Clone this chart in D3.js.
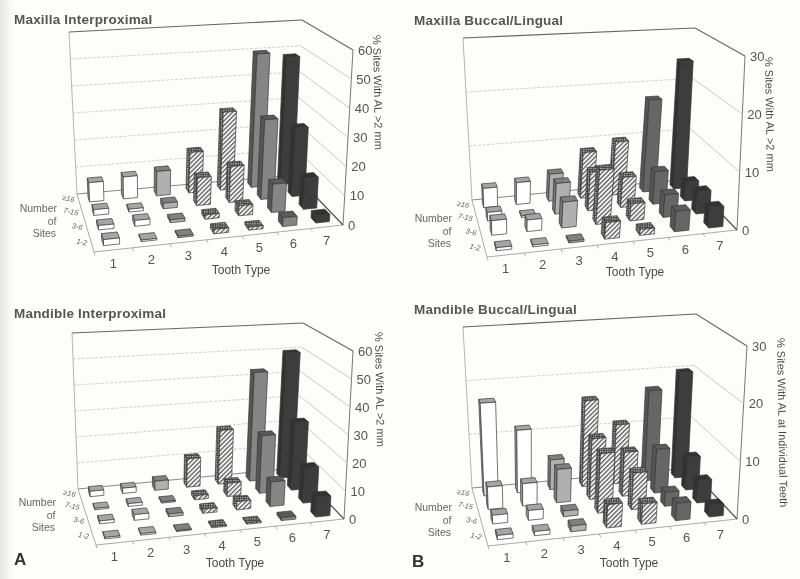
<!DOCTYPE html>
<html>
<head>
<meta charset="utf-8">
<title>Sites with attachment loss by tooth type</title>
<script src="https://cdnjs.cloudflare.com/ajax/libs/d3/7.8.5/d3.min.js"></script>
<style>
    html, body { margin: 0; padding: 0; background: #fdfdfb; }
    svg { display: block; }
    text { font-family: "Liberation Sans", Arial, sans-serif; fill: #4a4a4a; }
    .title { font-size: 13.5px; font-weight: bold; fill: #555; letter-spacing: .2px; }
    .tick { font-size: 13px; fill: #555; }
    .axis-label { font-size: 11px; }
    .tooth-label { font-size: 12px; }
    .number-label { font-size: 10.5px; fill: #666; }
    .site { font-size: 7.5px; font-style: italic; fill: #666; }
    .letter { font-size: 17px; font-weight: bold; fill: #333; }
</style>
</head>
<body>
<svg width="800" height="579"></svg>

<script>
    // data, one row per site group, back to front
    const toothTypes = ["1", "2", "3", "4", "5", "6", "7"];
    const siteGroups = ["≥16", "7-15", "3-6", "1-2"];
    const numberLines = ["Number", "of", "Sites"];

    const maxillaInter = [
        [7, 8, 9, 15, 29, 50, 48],
        [2, 1, 2, 10, 13, 29, 25],
        [1.5, 2, 1, 1.5, 3.5, 10, 11],
        [2, 0.5, 0.5, 1.5, 1, 3, 2.5]
    ];
    const maxillaBuccal = [
        [3.5, 4, 5, 8.5, 10, 17.5, 24.5],
        [1.5, 0.3, 5.5, 7, 5.5, 6, 3.5],
        [2.5, 2, 4.5, 9.5, 3, 4, 4],
        [0.5, 0.3, 0.3, 2.8, 1, 3.5, 3.5]
    ];
    const mandibleInter = [
        [2, 2, 3.5, 11, 21, 43, 50],
        [0.5, 1, 0.5, 1.5, 5, 22, 26],
        [1, 2, 1, 1.5, 3, 9, 13],
        [0.5, 0.5, 0.3, 0.4, 0.4, 1, 7]
    ];
    const mandibleBuccal = [
        [17, 11.5, 5.5, 16, 11, 17, 20],
        [4, 4, 6, 11, 8, 8, 6],
        [1.5, 1.7, 1, 10.5, 6.5, 2.5, 4],
        [0.7, 0.7, 1, 4, 3.5, 3, 2]
    ];

    const ticks60 = [0, 10, 20, 30, 40, 50, 60];
    const ticks30 = [0, 10, 20, 30];

    const svg = d3.select("svg");
    const defs = svg.append("defs");

    // hatched front and checkered side for tooth types 4 and 5
    const hatch = defs.append("pattern")
        .attr("id", "hatch")
        .attr("width", 3.2).attr("height", 3.2)
        .attr("patternUnits", "userSpaceOnUse")
        .attr("patternTransform", "rotate(-45)");
    hatch.append("rect").attr("width", 3.2).attr("height", 3.2).attr("fill", "#f4f4f4");
    hatch.append("rect").attr("width", 3.2).attr("height", 1.2).attr("fill", "#555");

    const check = defs.append("pattern")
        .attr("id", "check")
        .attr("width", 2.4).attr("height", 2.4)
        .attr("patternUnits", "userSpaceOnUse");
    check.append("rect").attr("width", 2.4).attr("height", 2.4).attr("fill", "#444");
    check.append("rect").attr("width", 1.2).attr("height", 1.2).attr("fill", "#ccc");

    defs.append("filter").attr("id", "scan")
        .attr("x", 0).attr("y", 0).attr("width", 1).attr("height", 1)
        .append("feGaussianBlur").attr("stdDeviation", 0.45);

    const edge = defs.append("linearGradient").attr("id", "edge");
    edge.append("stop").attr("offset", 0).attr("stop-color", "#e6e6e4");
    edge.append("stop").attr("offset", 1).attr("stop-color", "#fdfdfb");

    svg.append("rect").attr("width", 800).attr("height", 579).attr("fill", "#fdfdfb");
    svg.append("rect").attr("width", 14).attr("height", 579).attr("fill", "url(#edge)");

    const root = svg.append("g").attr("filter", "url(#scan)");

    // front, side, top colours by tooth type
    const looks = (six) => [
        { front: "#fff", side: "#999", top: "#a5a5a5" },
        { front: "#fff", side: "#999", top: "#a5a5a5" },
        { front: "#b0b0b0", side: "#777", top: "#808080" },
        { front: "url(#hatch)", side: "url(#check)", top: "url(#check)" },
        { front: "url(#hatch)", side: "url(#check)", top: "url(#check)" },
        { front: six, side: "#555", top: "#5a5a5a" },
        { front: "#3c3c3c", side: "#333", top: "#333" }
    ];

    // unit square to quad, corners in order back-left, back-right, front-right, front-left
    function homography(q) {
        const [[x0, y0], [x1, y1], [x2, y2], [x3, y3]] = q;
        const dx1 = x1 - x2, dx2 = x3 - x2, sx = x0 - x1 + x2 - x3;
        const dy1 = y1 - y2, dy2 = y3 - y2, sy = y0 - y1 + y2 - y3;
        const den = dx1 * dy2 - dx2 * dy1;
        const g = (sx * dy2 - dx2 * sy) / den;
        const h = (dx1 * sy - sx * dy1) / den;
        const a = x1 - x0 + g * x1, b = x3 - x0 + h * x3;
        const d = y1 - y0 + g * y1, e = y3 - y0 + h * y3;
        return (u, v) => {
            const w = g * u + h * v + 1;
            return [(a * u + b * v + x0) / w, (d * u + e * v + y0) / w];
        };
    }

    function drawPanel(opt) {
        const floorAt = homography(opt.floor);
        const ceilAt = homography(opt.ceil);
        const pt = (u, v, t) => {
            const f = floorAt(u, v), c = ceilAt(u, v);
            return [f[0] + (c[0] - f[0]) * t, f[1] + (c[1] - f[1]) * t];
        };
        const g = root.append("g");
        const poly = (pts) => pts.map(p => p.join(",")).join(" ");
        const seg = (a, b, stroke, w, dash) => g.append("line")
            .attr("x1", a[0]).attr("y1", a[1]).attr("x2", b[0]).attr("y2", b[1])
            .attr("stroke", stroke).attr("stroke-width", w)
            .attr("stroke-dasharray", dash || null);

        const x = d3.scaleBand().domain(toothTypes).range([0, 1]).paddingInner(0.58).paddingOuter(0.29);
        const z = d3.scaleBand().domain(siteGroups).range([0, 1]).paddingInner(0.62).paddingOuter(0.31);
        const y = d3.scaleLinear().domain([0, d3.max(opt.ticks)]).range([0, 1]);

        // walls
        seg(pt(0, 0, 0), pt(0, 0, 1), "#b5b5b5", 1);
        seg(pt(0, 0, 1), pt(1, 0, 1), "#666", 1.1);
        seg(pt(1, 0, 1), pt(1, 1, 1), "#666", 1.1);
        seg(pt(1, 1, 0), pt(1, 1, 1), "#777", 1);
        opt.ticks.filter(t => t > 0 && t < y.domain()[1]).forEach(t => {
            seg(pt(0, 0, y(t)), pt(1, 0, y(t)), "#bbb", 0.7, "3 1.5");
            seg(pt(1, 0, y(t)), pt(1, 1, y(t)), "#bbb", 0.8);
        });

        // floor
        seg(pt(0, 0, 0), pt(1, 0, 0), "#888", 1);
        seg(pt(0, 0, 0), pt(0, 1, 0), "#aaa", 1);
        seg(pt(0, 1, 0), pt(1, 1, 0), "#aaa", 1);
        seg(pt(1, 0, 0), pt(1, 1, 0), "#555", 1.3);

        // bars, back row first, right to left inside a row
        const look = looks(opt.six);
        const cells = [];
        siteGroups.forEach((s, r) => {
            toothTypes.slice().reverse().forEach(t => {
                cells.push({ s, t, value: opt.values[r][toothTypes.indexOf(t)], look: look[toothTypes.indexOf(t)] });
            });
        });
        const bars = g.selectAll(".bar")
            .data(cells)
            .join("g")
            .attr("class", "bar")
            .attr("stroke", "#3a3a3a")
            .attr("stroke-width", 0.7)
            .attr("stroke-linejoin", "round");
        const corners = (d) => {
            const u0 = x(d.t), u1 = u0 + x.bandwidth();
            const v0 = z(d.s), v1 = v0 + z.bandwidth();
            return { u0, u1, v0, v1, h: y(d.value) };
        };
        bars.append("polygon")
            .attr("fill", d => d.look.side)
            .attr("points", d => {
                const c = corners(d);
                return poly([pt(c.u0, c.v0, 0), pt(c.u0, c.v1, 0), pt(c.u0, c.v1, c.h), pt(c.u0, c.v0, c.h)]);
            });
        bars.append("polygon")
            .attr("fill", d => d.look.top)
            .attr("points", d => {
                const c = corners(d);
                return poly([pt(c.u0, c.v0, c.h), pt(c.u1, c.v0, c.h), pt(c.u1, c.v1, c.h), pt(c.u0, c.v1, c.h)]);
            });
        bars.append("polygon")
            .attr("fill", d => d.look.front)
            .attr("points", d => {
                const c = corners(d);
                return poly([pt(c.u0, c.v1, 0), pt(c.u1, c.v1, 0), pt(c.u1, c.v1, c.h), pt(c.u0, c.v1, c.h)]);
            });

        // value axis along the front right post
        opt.ticks.forEach(t => {
            const p = pt(1, 1, y(t));
            g.append("text").attr("class", "tick")
                .attr("x", p[0] + 5).attr("y", p[1] + 4.5)
                .text(t);
        });

        // tooth ticks along the front edge
        x.domain().forEach((t, i) => {
            const u = i / 7;
            const a = pt(u, 1, 0), b = pt(u, 1.05, 0);
            seg(a, b, "#999", 0.8);
            const c = pt(x(t) + x.bandwidth() / 2, 1, 0);
            g.append("text").attr("class", "tick")
                .attr("x", c[0]).attr("y", c[1] + 18)
                .attr("text-anchor", "middle")
                .text(t);
        });

        // site group labels along the left edge, tilted like the floor edge
        siteGroups.forEach(s => {
            const c = pt(0, z(s) + z.bandwidth() / 2, 0);
            g.append("text").attr("class", "site")
                .attr("transform", `translate(${c[0] - 5},${c[1] + 2}) rotate(12)`)
                .attr("text-anchor", "end")
                .text(s);
        });

        numberLines.forEach((s, i) => {
            g.append("text").attr("class", "number-label")
                .attr("x", opt.numberAt[0] - i * 0.5).attr("y", opt.numberAt[1] + i * 12.5)
                .attr("text-anchor", "end")
                .text(s);
        });

        g.append("text").attr("class", "tooth-label")
            .attr("x", opt.toothAt[0]).attr("y", opt.toothAt[1])
            .attr("text-anchor", "middle")
            .text("Tooth Type");

        g.append("text").attr("class", "axis-label")
            .attr("transform", `translate(${opt.valueAt[0]},${opt.valueAt[1]}) rotate(89)`)
            .text(opt.valueTitle);

        g.append("text").attr("class", "title")
            .attr("x", opt.titleAt[0]).attr("y", opt.titleAt[1])
            .text(opt.title);

        if (opt.letter) {
            g.append("text").attr("class", "letter")
                .attr("x", opt.letterAt[0]).attr("y", opt.letterAt[1])
                .text(opt.letter);
        }
    }

    drawPanel({
        title: "Maxilla Interproximal", titleAt: [14, 24],
        values: maxillaInter, ticks: ticks60, six: "#858585",
        floor: [[77, 194], [295, 175], [343, 225], [94, 252]],
        ceil: [[69, 32], [302, 20], [353, 50], [87, 70]],
        valueTitle: "% Sites With AL >2 mm", valueAt: [373, 35],
        toothAt: [241, 274], numberAt: [57, 212]
    });
    drawPanel({
        title: "Maxilla Buccal/Lingual", titleAt: [414, 25],
        values: maxillaBuccal, ticks: ticks30, six: "#666",
        floor: [[472, 200], [688, 179], [737, 230], [487, 257]],
        ceil: [[463, 38], [695, 28], [745, 56], [480, 76]],
        valueTitle: "% Sites With AL >2 mm", valueAt: [765, 57],
        toothAt: [635, 276], numberAt: [452, 222]
    });
    drawPanel({
        title: "Mandible Interproximal", titleAt: [14, 318],
        values: mandibleInter, ticks: ticks60, six: "#858585",
        floor: [[78, 489], [295, 468], [344, 519], [96, 545]],
        ceil: [[72, 333], [303, 323], [353, 351], [89, 365]],
        valueTitle: "% Sites With AL >2 mm", valueAt: [375, 332],
        toothAt: [235, 567], numberAt: [56, 506]
    });
    drawPanel({
        title: "Mandible Buccal/Lingual", titleAt: [414, 314],
        values: mandibleBuccal, ticks: ticks30, six: "#666",
        floor: [[472, 488], [689, 468], [737, 519], [488, 546]],
        ceil: [[463, 327], [696, 314], [747, 346], [481, 368]],
        valueTitle: "% Sites With AL at Individual Teeth", valueAt: [777, 338],
        toothAt: [629, 567], numberAt: [452, 511],
        letter: "B", letterAt: [412, 567]
    });
    root.append("text").attr("class", "letter").attr("x", 14).attr("y", 565).text("A");
</script>
</body>
</html>
